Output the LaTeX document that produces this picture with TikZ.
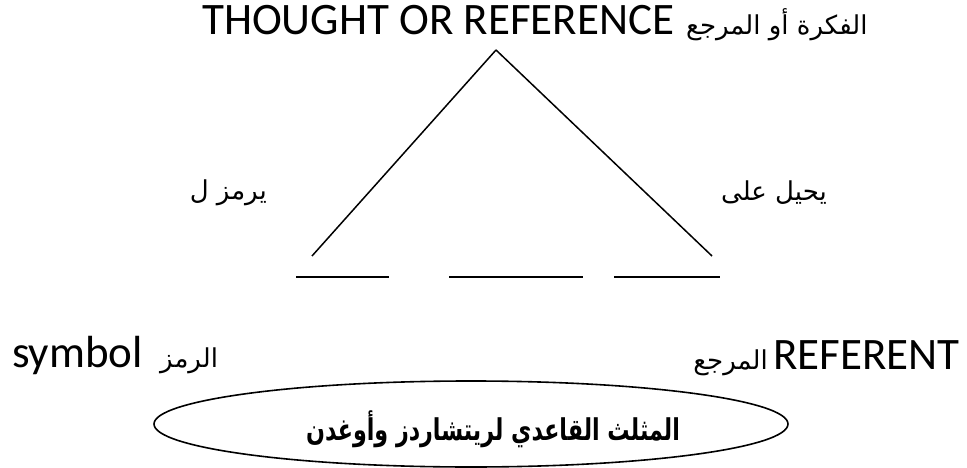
\documentclass[tikz,border=0pt]{standalone}
\usepackage{fontspec}
\setmainfont{Carlito}
\newfontfamily\arabicfont[Script=Arabic]{DejaVu Sans}
\newfontfamily\arabicnarrow[Script=Arabic,FakeStretch=0.74]{DejaVu Sans}
\TeXXeTstate=1
\usetikzlibrary{shapes.geometric}
\begin{document}
\begin{tikzpicture}[x=1pt,y=-1pt,
  lat/.style={font=\fontsize{45}{54}\selectfont, inner sep=0pt},
  ara/.style={font=\fontsize{26}{32}\selectfont\arabicfont, inner sep=0pt},
  titlestyle/.style={font=\fontsize{30}{36}\selectfont\arabicnarrow\bfseries, inner sep=0pt},
  leg/.style={line width=1.5pt},
  base/.style={line width=1.8pt}]
\useasboundingbox (0,0) rectangle (967,468);
% top label
\node[lat, anchor=base west] (thought) at (202,35) {THOUGHT OR REFERENCE};
\node[ara, anchor=base west] (fikra) at (686,35) {\beginR الفكرة أو المرجع\endR};
% triangle
\coordinate (apex) at (496,50);
\coordinate (lend) at (312,256);
\coordinate (rend) at (712,256);
\draw[leg] (apex) -- (lend);
\draw[leg] (apex) -- (rend);
% base segments
\coordinate (s1a) at (296,277); \coordinate (s1b) at (389,277);
\coordinate (s2a) at (449,277); \coordinate (s2b) at (583,277);
\coordinate (s3a) at (614,277); \coordinate (s3b) at (720,277);
\draw[base] (s1a) -- (s1b);
\draw[base] (s2a) -- (s2b);
\draw[base] (s3a) -- (s3b);
% side labels
\node[ara, anchor=east] (yarmuz) at (267,193) {\beginR يرمز ل\endR};
\node[ara, anchor=west] (yuhil) at (721,193) {\beginR يحيل على\endR};
% bottom labels
\node[lat, anchor=base west] (symbol) at (12,367) {symbol};
\node[ara, anchor=base west] (ramz) at (160,367) {\beginR الرمز\endR};
\node[ara, anchor=base east] (marja) at (768,369) {\beginR المرجع\endR};
\node[lat, anchor=base west] (referent) at (773,369) {REFERENT};
% ellipse
\node[draw, line width=1.6pt, ellipse, minimum width=634pt, minimum height=86pt, inner sep=0pt] (ell) at (471,424) {};
\node[titlestyle] (title) at (493,429) {\beginR المثلث القاعدي لريتشاردز وأوغدن\endR};
\end{tikzpicture}
\end{document}
